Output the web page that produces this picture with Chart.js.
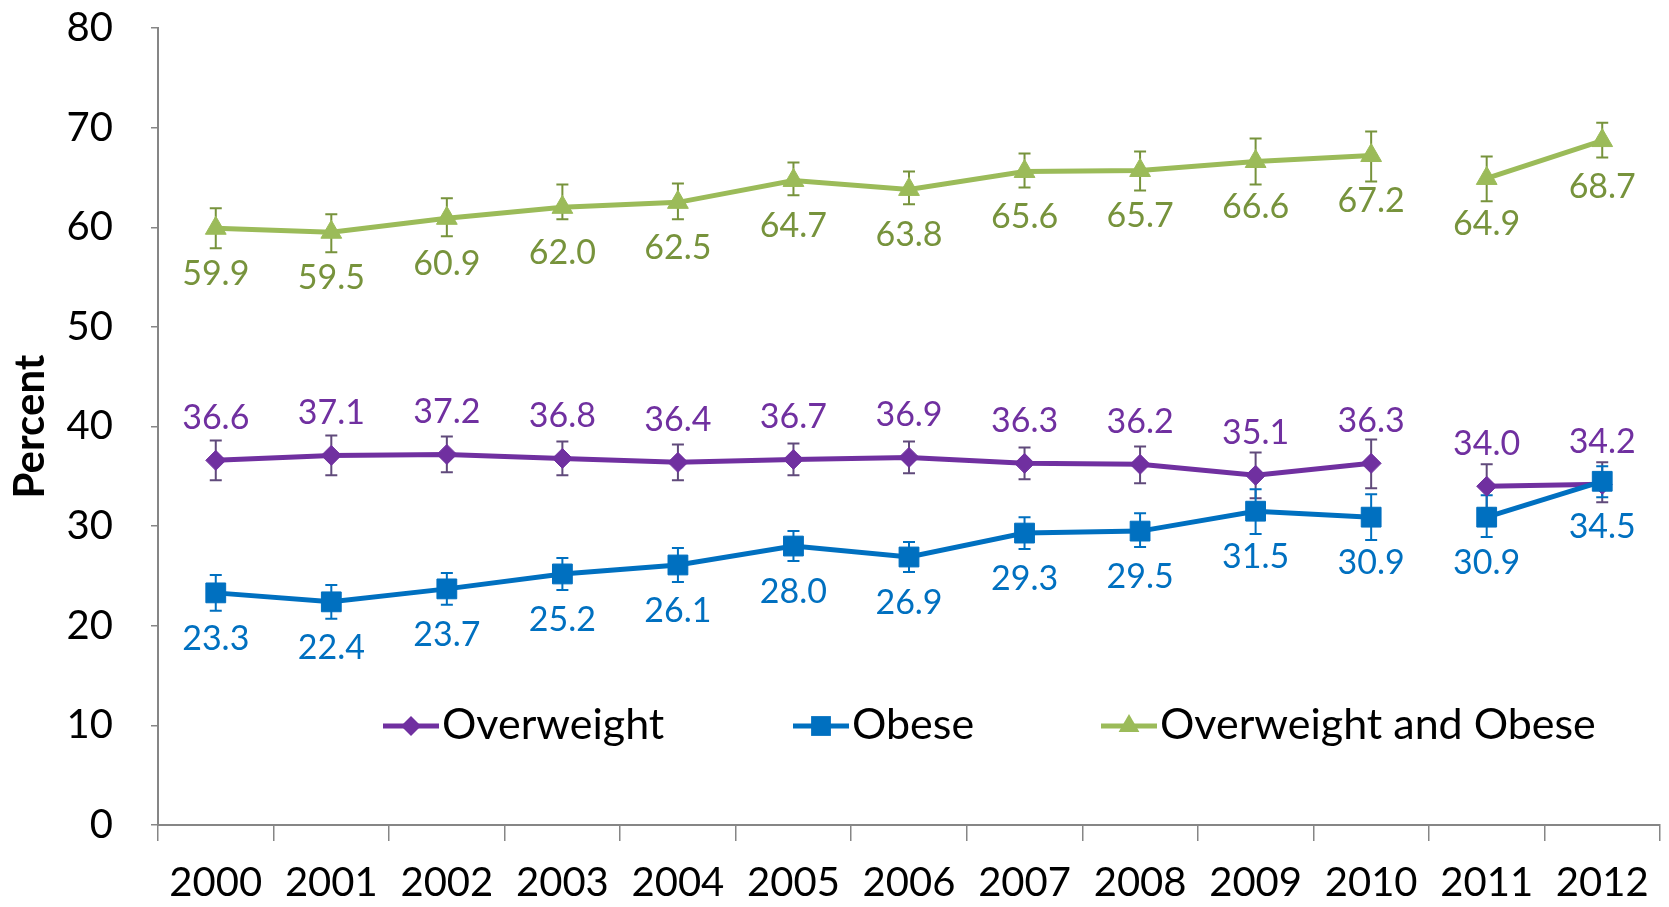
<!DOCTYPE html>
<html>
  <head>
    <meta charset="UTF-8" />
    <title>Overweight and Obesity, 2000-2012</title>
    <style>
      html, body { margin: 0; padding: 0; background: #fff; }
      #chart { display: block; }
    </style>
  </head>
  <body>
    <canvas id="chart" width="1669" height="907"></canvas>
    <script src="https://cdn.jsdelivr.net/npm/chart.js"></script>
    <script>
      // Values
      const years = ['2000', '2001', '2002', '2003', '2004', '2005', '2006',
                     '2007', '2008', '2009', '2010', '2011', '2012'];
      const overweight = [36.6, 37.1, 37.2, 36.8, 36.4, 36.7, 36.9, 36.3, 36.2, 35.1, 36.3, 34.0, 34.2];
      const obese = [23.3, 22.4, 23.7, 25.2, 26.1, 28.0, 26.9, 29.3, 29.5, 31.5, 30.9, 30.9, 34.5];
      const overOrObese = [59.9, 59.5, 60.9, 62.0, 62.5, 64.7, 63.8, 65.6, 65.7, 66.6, 67.2, 64.9, 68.7];

      // error bar lengths above / below each point (estimated)
      const overweightErrUp = [2.0, 2.0, 1.8, 1.7, 1.8, 1.6, 1.6, 1.6, 1.8, 2.3, 2.4, 2.2, 2.2];
      const overweightErrDown = [2.0, 2.0, 1.8, 1.7, 1.8, 1.6, 1.6, 1.6, 1.9, 2.3, 2.5, 2.2, 1.8];
      const obeseErrUp = [1.8, 1.7, 1.6, 1.6, 1.7, 1.5, 1.5, 1.6, 1.8, 2.2, 2.3, 2.2, 1.5];
      const obeseErrDown = [1.8, 1.7, 1.6, 1.6, 1.7, 1.5, 1.5, 1.6, 1.6, 2.3, 2.3, 2.0, 1.6];
      const overOrObeseErrUp = [2.0, 1.8, 2.0, 2.3, 1.9, 1.8, 1.8, 1.8, 1.9, 2.3, 2.4, 2.2, 1.8];
      const overOrObeseErrDown = [2.0, 2.0, 1.8, 1.2, 1.7, 1.5, 1.5, 1.6, 2.0, 2.3, 2.6, 2.3, 1.7];

      // the survey changed after 2010, so the line is broken there
      const breakAfter = 10;

      const FONT = 'Lato';

      // vertical error bars with caps, drawn under the markers
      const errorBars = {
        id: 'errorBars',
        beforeDatasetsDraw(chart) {
          const ctx = chart.ctx;
          const y = chart.scales.y;
          chart.data.datasets.forEach((ds, i) => {
            const meta = chart.getDatasetMeta(i);
            ctx.save();
            ctx.strokeStyle = ds.errColor;
            ctx.lineWidth = 2;
            meta.data.forEach((pt, j) => {
              const top = y.getPixelForValue(ds.data[j] + ds.errUp[j]);
              const bot = y.getPixelForValue(ds.data[j] - ds.errDown[j]);
              ctx.beginPath();
              ctx.moveTo(pt.x, top);
              ctx.lineTo(pt.x, bot);
              ctx.moveTo(pt.x - 6, top);
              ctx.lineTo(pt.x + 6, top);
              ctx.moveTo(pt.x - 6, bot);
              ctx.lineTo(pt.x + 6, bot);
              ctx.stroke();
            });
            ctx.restore();
          });
        },
      };

      // value labels above or below each point
      const valueLabels = {
        id: 'valueLabels',
        afterDatasetsDraw(chart) {
          const ctx = chart.ctx;
          chart.data.datasets.forEach((ds, i) => {
            const meta = chart.getDatasetMeta(i);
            ctx.save();
            ctx.font = `34px ${FONT}`;
            ctx.fillStyle = ds.labelColor;
            ctx.textAlign = 'center';
            ctx.textBaseline = 'middle';
            meta.data.forEach((pt, j) => {
              ctx.fillText(ds.data[j].toFixed(1), pt.x, pt.y + ds.labelOffset);
            });
            ctx.restore();
          });
        },
      };

      function marker(ctx, style, x, y, r) {
        ctx.beginPath();
        if (style === 'rectRot') {
          ctx.moveTo(x - r, y); ctx.lineTo(x, y - r); ctx.lineTo(x + r, y); ctx.lineTo(x, y + r);
        } else if (style === 'rect') {
          const s = r * Math.SQRT1_2;
          ctx.rect(x - s, y - s, 2 * s, 2 * s);
        } else {
          ctx.moveTo(x, y - r);
          ctx.lineTo(x + r * Math.sin(Math.PI / 3), y + r / 2);
          ctx.lineTo(x - r * Math.sin(Math.PI / 3), y + r / 2);
        }
        ctx.closePath();
        ctx.fill();
      }

      // legend sits inside the plot, near the bottom
      const insideLegend = {
        id: 'insideLegend',
        afterDraw(chart) {
          const ctx = chart.ctx;
          const starts = [383, 793, 1101];
          const ly = 726;
          ctx.save();
          chart.data.datasets.forEach((ds, i) => {
            const x0 = starts[i];
            ctx.strokeStyle = ds.borderColor;
            ctx.fillStyle = ds.borderColor;
            ctx.lineWidth = 5;
            ctx.beginPath();
            ctx.moveTo(x0, ly);
            ctx.lineTo(x0 + 56, ly);
            ctx.stroke();
            marker(ctx, ds.pointStyle, x0 + 28, ly, ds.pointRadius);
            ctx.fillStyle = '#000';
            ctx.font = `43px ${FONT}`;
            ctx.textAlign = 'left';
            ctx.textBaseline = 'middle';
            ctx.fillText(ds.label, x0 + 59, ly - 1);
          });
          ctx.restore();
        },
      };

      const gapSegment = {
        borderColor: (c) => (c.p0DataIndex === breakAfter ? 'rgba(0,0,0,0)' : undefined),
      };

      const ctx = document.getElementById('chart').getContext('2d');
      new Chart(ctx, {
        type: 'line',
        data: {
          labels: years,
          datasets: [
            {
              label: 'Overweight',
              data: overweight,
              borderColor: '#7030a0',
              backgroundColor: '#7030a0',
              borderWidth: 5,
              pointStyle: 'rectRot',
              pointRadius: 10,
              pointBorderWidth: 1,
              segment: gapSegment,
              order: 1,
              errUp: overweightErrUp,
              errDown: overweightErrDown,
              errColor: '#604a7b',
              labelColor: '#7030a0',
              labelOffset: -42,
            },
            {
              label: 'Obese',
              data: obese,
              borderColor: '#0070c0',
              backgroundColor: '#0070c0',
              borderWidth: 5,
              pointStyle: 'rect',
              pointRadius: 14,
              pointBorderWidth: 1,
              segment: gapSegment,
              order: 0,
              errUp: obeseErrUp,
              errDown: obeseErrDown,
              errColor: '#0070c0',
              labelColor: '#0070c0',
              labelOffset: 46,
            },
            {
              label: 'Overweight and Obese',
              data: overOrObese,
              borderColor: '#9bbb59',
              backgroundColor: '#9bbb59',
              borderWidth: 5,
              pointStyle: 'triangle',
              pointRadius: 12,
              pointBorderWidth: 1,
              segment: gapSegment,
              order: 2,
              errUp: overOrObeseErrUp,
              errDown: overOrObeseErrDown,
              errColor: '#77933c',
              labelColor: '#77933c',
              labelOffset: 46,
            },
          ],
        },
        options: {
          responsive: false,
          animation: false,
          layout: { autoPadding: false, padding: { top: 28, right: 9, left: 0, bottom: 0 } },
          plugins: {
            legend: { display: false },
            tooltip: { enabled: false },
          },
          scales: {
            x: {
              offset: true,
              grid: {
                offset: true,
                drawOnChartArea: false,
                drawTicks: true,
                tickLength: 16,
                color: '#868686',
                lineWidth: 1.5,
              },
              border: { color: '#868686', width: 2 },
              ticks: {
                color: '#000',
                font: { family: FONT, size: 40 },
                padding: 18,
                maxRotation: 0,
                autoSkip: false,
              },
              afterFit: (s) => {
                s.height = 82;
                s.paddingLeft = 0;
                s.paddingRight = 0;
              },
            },
            y: {
              min: 0,
              max: 80,
              grid: {
                drawOnChartArea: false,
                drawTicks: true,
                tickLength: 7,
                color: '#868686',
                lineWidth: 1.5,
              },
              border: { color: '#868686', width: 2 },
              ticks: {
                stepSize: 10,
                color: '#000',
                font: { family: FONT, size: 40 },
                padding: 38,
              },
              title: {
                display: true,
                text: 'Percent',
                color: '#000',
                font: { family: FONT, size: 42, weight: 'bold' },
                padding: { top: 5, bottom: 0 },
              },
              afterFit: (s) => {
                s.width = 158;
                s.paddingTop = 0;
                s.paddingBottom = 0;
              },
            },
          },
        },
        plugins: [errorBars, valueLabels, insideLegend],
      });
    </script>
  </body>
</html>
